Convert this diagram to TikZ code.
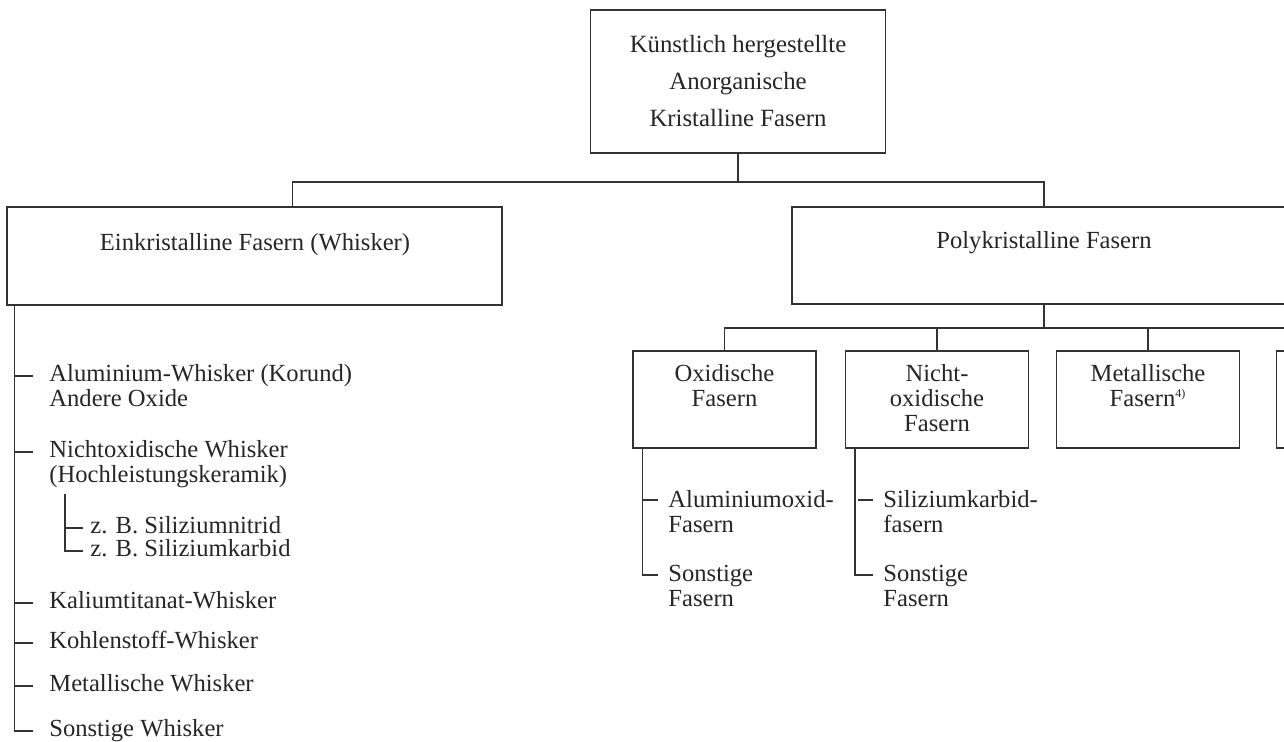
\documentclass[tikz,border=0pt]{standalone}
\usepackage{fontspec}
\setmainfont{Liberation Serif}
\usetikzlibrary{calc}

\tikzset{
  box/.style={draw=black!80, line width=0.7pt, inner sep=0pt},
  link/.style={draw=black!80, line width=0.7pt},
  txt/.style={text=black!85, inner sep=0pt, align=center, font=\fontsize{12.3}{12.4}\selectfont},
  item/.style={text=black!85, inner sep=0pt, align=left, anchor=north west, font=\fontsize{12.3}{12.7}\selectfont},
}

\begin{document}
\begin{tikzpicture}[x=0.5pt, y=-0.5pt]
    \useasboundingbox (0,0) rectangle (1284,742);
    \clip (0,0) rectangle (1284,742);

    \node [box, txt, minimum width=147.5pt, minimum height=71.5pt, font=\fontsize{12.4}{18.5}\selectfont] (kuenstlich) at (738,81.5) {Künstlich hergestellte\\Anorganische\\Kristalline Fasern};

    \node [box, minimum width=247.5pt, minimum height=49pt] (ein) at (254.5,256) {};
    \node [txt, anchor=base] (eintext) at (255,251) {Einkristalline Fasern (Whisker)};
    \node [box, minimum width=252pt, minimum height=48.5pt] (poly) at (1044,255.5) {};
    \node [txt, anchor=base] (polytext) at (1044,249) {Polykristalline Fasern};

    \coordinate (j1) at (0,182);
    \draw [link] (kuenstlich.south) -- (kuenstlich.south |- j1);% Stem of the top box
    \draw [link] ([xshift=19pt]ein.north) |- (poly.north |- j1) -- (poly.north);

    % polycrystalline sub boxes
    \node [box, minimum width=91.5pt, minimum height=48.5pt] (oxbox) at (724.5,399.5) {};
    \node [box, minimum width=91.5pt, minimum height=48.5pt] (noxbox) at (937,399.5) {};
    \node [box, minimum width=91.5pt, minimum height=48.5pt] (metbox) at (1148,399.5) {};
    \node [box, minimum width=91.5pt, minimum height=48.5pt] (restbox) at (1368,399.5) {};
    \node [txt, anchor=north] (oxtext) at ([yshift=-7pt]oxbox.north) {Oxidische\\Fasern};
    \node [txt, anchor=north] (noxtext) at ([yshift=-7pt]noxbox.north) {Nicht-\\oxidische\\Fasern};
    \node [txt, anchor=north] (mettext) at ([yshift=-7pt]metbox.north) {Metallische\\Fasern\textsuperscript{\fontsize{6}{6}\selectfont 4)}};

    \coordinate (j2) at (0,328);
    \draw [link] (poly.south) -- (poly.south |- j2);
    \draw [link] (oxbox.north) |- (restbox.north |- j2) -- (restbox.north);
    \foreach \b in {noxbox,metbox}
      \draw [link] (\b.north) -- (\b.north |- j2);

    % whisker list
    \node [item] (alu) at (49,364) {Aluminium-Whisker (Korund)\\Andere Oxide};
    \node [item] (nox) at (49,440) {Nichtoxidische Whisker\\(Hochleistungskeramik)};
    \node [item] (snit) at (90,516) {z. B. Siliziumnitrid};
    \node [item] (skarb) at (90,539) {z. B. Siliziumkarbid};
    \node [item] (kal) at (49,591) {Kaliumtitanat-Whisker};
    \node [item] (koh) at (49,631) {Kohlenstoff-Whisker};
    \node [item] (metw) at (49,674) {Metallische Whisker};
    \node [item] (sonw) at (49,719) {Sonstige Whisker};

    \draw [link] ([xshift=4pt]ein.south west) |- ([xshift=-8pt,yshift=-6pt]sonw.north west);
    \foreach \n in {alu,nox,kal,koh,metw}
      \draw [link] ([xshift=-8pt,yshift=-6pt]\n.north west) -- ++(-9pt,0);
    \draw [link] ([xshift=8pt,yshift=-2.5pt]nox.south west) |- ([xshift=-3.5pt,yshift=-6pt]skarb.north west);
    \draw [link] ([xshift=-3.5pt,yshift=-6pt]snit.north west) -- ++(-9pt,0);

    % oxide and non-oxide lists
    \node [item, font=\fontsize{12.3}{12.5}\selectfont] (alox) at (668,490) {Aluminiumoxid-\\Fasern};
    \node [item, font=\fontsize{12.3}{12.5}\selectfont] (sonox) at (668,565) {Sonstige\\Fasern};
    \node [item, font=\fontsize{12.3}{12.5}\selectfont] (sikf) at (883,490) {Siliziumkarbid-\\fasern};
    \node [item, font=\fontsize{12.3}{12.5}\selectfont] (sonnox) at (883,565) {Sonstige\\Fasern};

    \draw [link] ([xshift=5pt]oxbox.south west) |- ([xshift=-5pt,yshift=-5pt]sonox.north west);
    \draw [link] ([xshift=-5pt,yshift=-5pt]alox.north west) -- ++(-7.5pt,0);
    \draw [link] ([xshift=5pt]noxbox.south west) |- ([xshift=-5pt,yshift=-5pt]sonnox.north west);
    \draw [link] ([xshift=-5pt,yshift=-5pt]sikf.north west) -- ++(-7.5pt,0);
\end{tikzpicture}
\end{document}
